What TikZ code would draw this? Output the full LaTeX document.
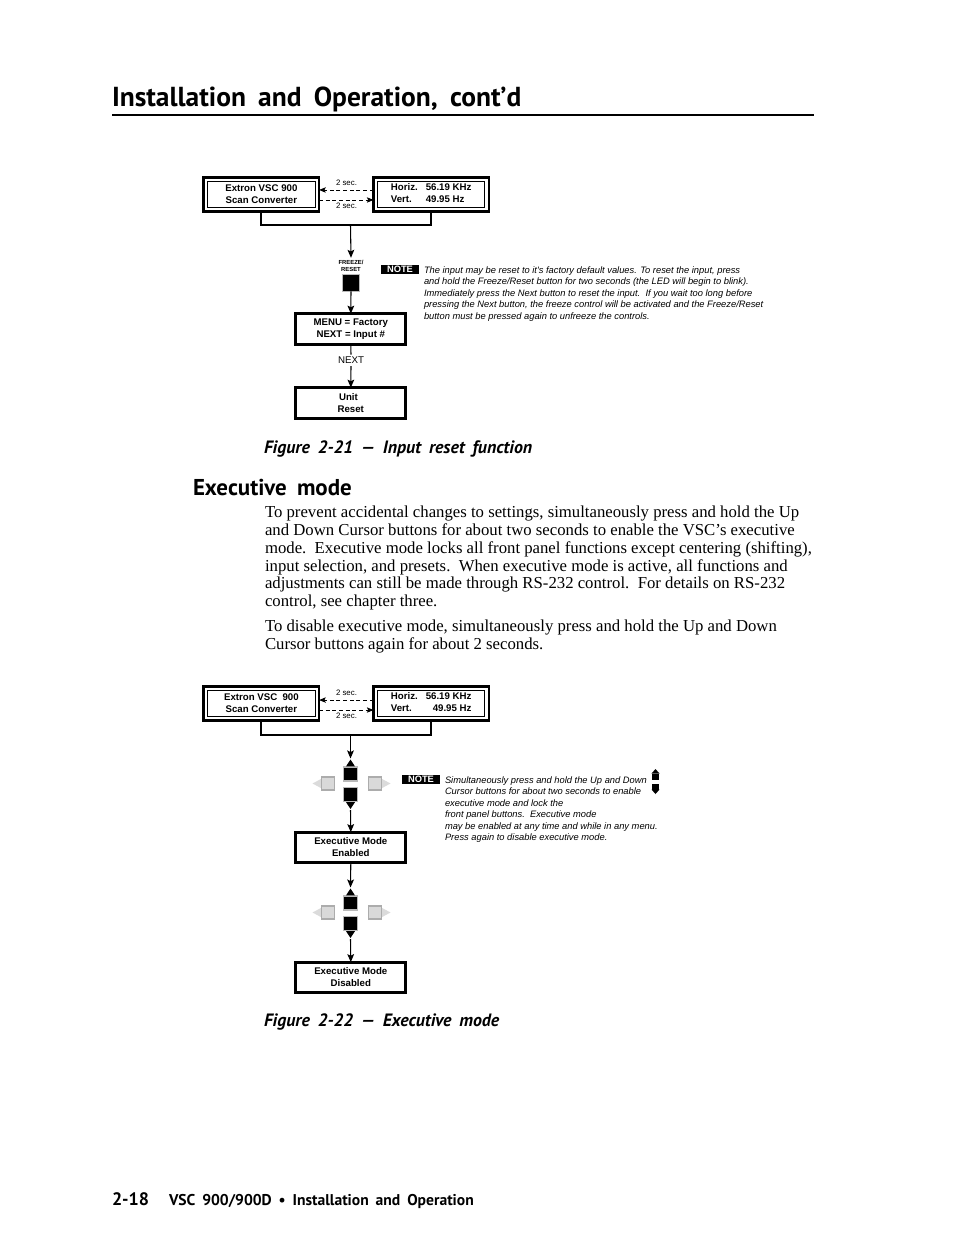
\documentclass[tikz,border=0pt]{standalone}
\usepackage{fontspec}
\setmainfont{Liberation Serif}
\newfontfamily\hdfont{PT Sans}
\newfontfamily\capfont[WordSpace=1.75]{PT Sans}
\newfontfamily\dgfont{Liberation Sans}
\usetikzlibrary{arrows.meta,calc}
\newcommand\cursorpad[2]{%
  \node[blk] (#1u) at (350.5,#2-10) {};
  \node[blk] (#1d) at (350.5,#2+10.5) {};
  \node[gry] (#1l) at (328,#2-0.5) {};
  \node[gry] (#1r) at (375,#2-0.5) {};
  \fill ($(#1u.north)+(-4.5,-0.6)$) -- ($(#1u.north)+(4.5,-0.6)$) -- ($(#1u.north)+(0,-7.5)$) -- cycle;
  \fill ($(#1d.south)+(-4.5,0.6)$) -- ($(#1d.south)+(4.5,0.6)$) -- ($(#1d.south)+(0,7.5)$) -- cycle;
  \fill[gray!28] ($(#1l.west)+(-0.6,-4.5)$) -- ($(#1l.west)+(-0.6,4.5)$) -- ($(#1l.west)+(-9,0)$) -- cycle;
  \fill[gray!28] ($(#1r.east)+(0.6,-4.5)$) -- ($(#1r.east)+(0.6,4.5)$) -- ($(#1r.east)+(9,0)$) -- cycle;
}
\newcommand\innerframe[1]{%
  \draw[line width=0.7pt] ($(#1.north west)+(4,4)$) rectangle ($(#1.south east)+(-4,-4)$);
}
\begin{document}
\begin{tikzpicture}[x=0.75pt,y=-0.75pt,
  every node/.style={inner sep=0pt,outer sep=0pt},
  dtxt/.style={font=\dgfont\bfseries\fontsize{7.25}{9}\selectfont,align=center},
  dbox/.style={draw,line width=1.9pt,minimum width=86.5pt,minimum height=25.8pt,dtxt},
  sbox/.style={draw,line width=2.2pt,minimum width=82.5pt,minimum height=23pt,dtxt},
  conn/.style={line width=0.8pt},
  arr/.style={conn,-{Stealth[length=6pt,width=5pt,inset=1.2pt]}},
  darr/.style={line width=0.7pt,dash pattern=on 3pt off 2pt,-{Stealth[length=5pt,width=4pt,inset=1pt]}},
  brk/.style={line width=1.6pt},
  secl/.style={font=\dgfont\fontsize{5.9}{7}\selectfont},
  notebox/.style={fill=black,text=white,font=\dgfont\bfseries\fontsize{7}{8}\selectfont,minimum width=28.5pt,minimum height=6.9pt},
  notetxt/.style={font=\dgfont\itshape\fontsize{7}{8.55}\selectfont,anchor=base west},
  body/.style={font=\fontsize{12.55}{14}\selectfont,anchor=base west},
  blk/.style={fill=black,draw=gray!55,line width=0.9pt,minimum size=10.5pt},
  gry/.style={fill=gray!30,draw=gray!65,line width=0.9pt,minimum size=9.75pt},
  captxt/.style={font=\capfont\bfseries\itshape\fontsize{13.4}{15}\selectfont,anchor=base west},
]
\useasboundingbox (0,0) rectangle (954,1235);

% ---------- page header ----------
\node[anchor=base west,font=\hdfont\bfseries\fontsize{20.6}{24}\selectfont] (title) at (112,106) {Installation and Operation, cont’d};
\draw[line width=1.6pt] (112,115) -- (814,115);

% ---------- Figure 2-21 ----------
\node[dbox] (a1) at (261.4,194.5) {Extron VSC 900\\Scan Converter};
\node[dbox] (b1) at (431.2,194.5) {\begin{tabular}{@{}l@{\hspace{6pt}}l@{}}Horiz. & 56.19 KHz\\Vert. & 49.95 Hz\end{tabular}};
\innerframe{a1}\innerframe{b1}
\draw[darr] ([yshift=3.4pt]b1.west) -- ([yshift=3.4pt]a1.east);
\draw[darr] ([yshift=-4.1pt]a1.east) -- ([yshift=-4.1pt]b1.west);
\node[secl] (s1a) at (346.5,182.5) {2 sec.};
\node[secl] (s1b) at (346.5,205.5) {2 sec.};
\coordinate (br1) at (350.5,225);
\draw[brk] (a1.south) |- (br1) -| (b1.south);
\node[font=\dgfont\bfseries\fontsize{4.4}{5.3}\selectfont,align=center] (fr) at (351,265.5) {FREEZE/\\RESET};
\draw[arr] (br1) -- ([yshift=1.5pt]fr.north);
\node[blk,minimum size=12.5pt] (btn) at (351,283) {};
\node[sbox] (menu) at (350.8,329) {MENU = Factory\\NEXT = Input \#};
\draw[arr] (btn.south) -- (menu.north);
\node[font=\dgfont\fontsize{7.3}{8}\selectfont] (nxt) at (351,360) {NEXT};
\draw[conn] (menu.south) -- ([yshift=1.5pt]nxt.north);
\node[sbox] (unit) at (350.8,403) {Unit\hspace*{3.5pt}\\Reset};
\draw[arr] ([yshift=-2pt]nxt.south) -- (unit.north);
\node[notebox] (nb1) at (400,269.5) {NOTE};
\node[notetxt] (n1a) at (424,273) {The input may be reset to it's factory default values. To reset the input, press};
\node[notetxt] (n1b) at (424,284.5) {and hold the Freeze/Reset button for two seconds (the LED will begin to blink).};
\node[notetxt] (n1c) at (424,296) {Immediately press the Next button to reset the input.\ \ If you wait too long before};
\node[notetxt] (n1d) at (424,307.5) {pressing the Next button, the freeze control will be activated and the Freeze/Reset};
\node[notetxt] (n1e) at (424,319) {button must be pressed again to unfreeze the controls.};
\node[captxt] (cap1) at (264,453) {Figure 2-21 — Input reset function};

% ---------- text ----------
\node[anchor=base west,font=\hdfont\bfseries\fontsize{17.2}{20}\selectfont] (hexec) at (193,495) {Executive mode};
\foreach \t [count=\i] in {%
 {To prevent accidental changes to settings, simultaneously press and hold the Up},
 {and Down Cursor buttons for about two seconds to enable the VSC’s executive},
 {mode.\ \ Executive mode locks all front panel functions except centering (shifting),},
 {input selection, and presets.\ \ When executive mode is active, all functions and},
 {adjustments can still be made through RS-232 control.\ \ For details on RS-232},
 {control, see chapter three.}}
 \node[body] (p1l\i) at (265,517.5+17.85*\i-17.85) {\t};
\node[body] (p2l1) at (265,631) {To disable executive mode, simultaneously press and hold the Up and Down};
\node[body] (p2l2) at (265,649) {Cursor buttons again for about 2 seconds.};

% ---------- Figure 2-22 ----------
\node[dbox] (a2) at (261.4,703.5) {Extron VSC\ \ 900\\Scan Converter};
\node[dbox] (b2) at (431.2,703.5) {\begin{tabular}{@{}l@{\hspace{6pt}}r@{}}Horiz. & 56.19 KHz\\Vert. & 49.95 Hz\end{tabular}};
\innerframe{a2}\innerframe{b2}
\draw[darr] ([yshift=2.6pt]b2.west) -- ([yshift=2.6pt]a2.east);
\draw[darr] ([yshift=-4.9pt]a2.east) -- ([yshift=-4.9pt]b2.west);
\node[secl] (s2a) at (346.5,692.5) {2 sec.};
\node[secl] (s2b) at (346.5,716) {2 sec.};
\coordinate (br2) at (350.5,735);
\draw[brk] (a2.south) |- (br2) -| (b2.south);
\cursorpad{c1}{784}
\draw[arr] (br2) -- ($(c1u.north)+(0,-8.5)$);
\node[sbox] (en) at (350.8,847.5) {Executive Mode\\Enabled};
\draw[arr] ($(c1d.south)+(0,8.5)$) -- (en.north);
\cursorpad{c2}{913}
\draw[arr] (en.south) -- ($(c2u.north)+(0,-8.5)$);
\node[sbox] (dis) at (350.8,977.5) {Executive Mode\\Disabled};
\draw[arr] ($(c2d.south)+(0,8.5)$) -- (dis.north);
\node[notebox] (nb2) at (421,779.5) {NOTE};
\node[notetxt] (n2a) at (445,783) {Simultaneously press and hold the Up and Down};
\node[notetxt] (n2b) at (445,794.5) {Cursor buttons for about two seconds to enable};
\node[notetxt] (n2c) at (445,806) {executive mode and lock the};
\node[notetxt] (n2d) at (445,817.5) {front panel buttons.\ \ Executive mode};
\node[notetxt] (n2e) at (445,829) {may be enabled at any time and while in any menu.};
\node[notetxt] (n2f) at (445,840.5) {Press again to disable executive mode.};
% small up/down icon
\fill (651.5,773.5) -- (659.5,773.5) -- (655.5,769) -- cycle;
\fill (652,773.5) rectangle (659,780);
\fill (652,783.5) rectangle (659,790);
\fill (651.5,789.5) -- (659.5,789.5) -- (655.5,794) -- cycle;
\node[captxt] (cap2) at (264,1026) {Figure 2-22 — Executive mode};

% ---------- footer ----------
\node[anchor=base west,font=\hdfont\bfseries\fontsize{13.5}{16}\selectfont] (pg) at (112,1205) {2-18};
\node[anchor=base west,font=\hdfont\bfseries\fontsize{11.7}{14}\selectfont] (ft) at (169,1205) {VSC 900/900D • Installation and Operation};
\end{tikzpicture}
\end{document}
